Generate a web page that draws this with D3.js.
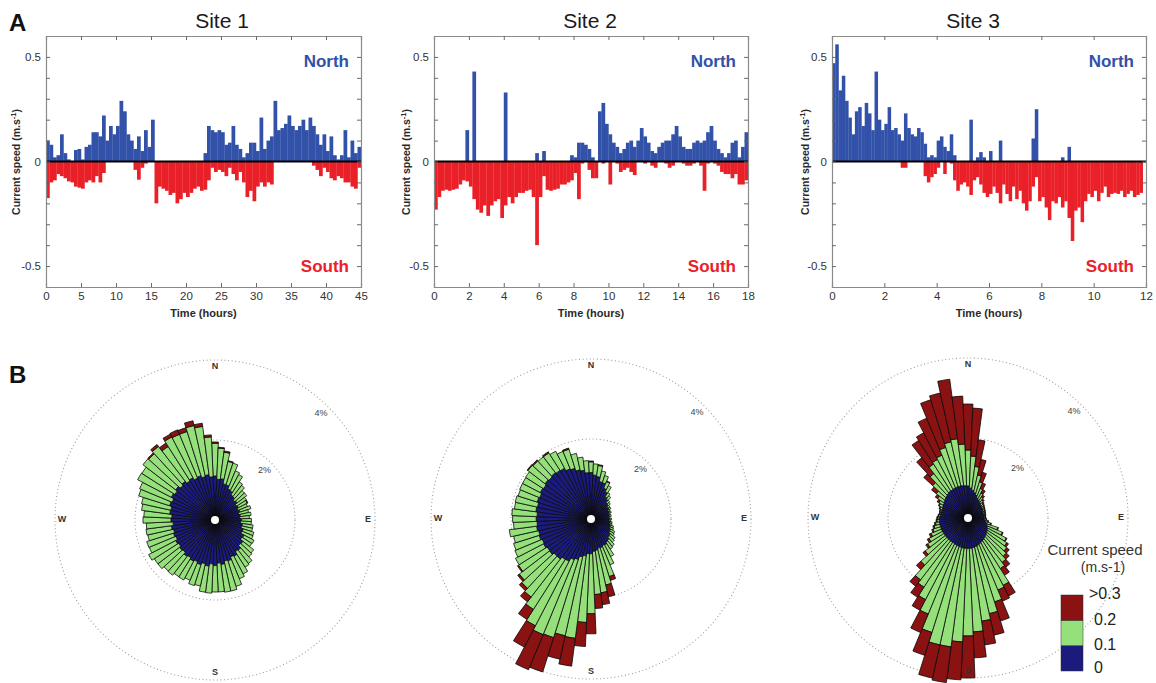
<!DOCTYPE html>
<html>
<head>
<meta charset="utf-8">
<script src="https://cdn.jsdelivr.net/npm/d3@7"></script>
<style>
  body { margin: 0; background: #fff; }
  svg { display: block; font-family: "Liberation Sans", Arial, sans-serif; }
</style>
</head>
<body>
<svg id="chart" width="1156" height="683"></svg>
<script>
// ---------- Panel A: north/south current components per time bin (m/s) ----------
const siteNames = ["Site 1", "Site 2", "Site 3"];

// Site 1: 0.5 h bins over 45 h
const step1 = 0.5;
const north1 = [0.10,0.08,0.02,0.03,0.13,0.04,0.01,0.00,0.055,0.06,
                0.01,0.07,0.08,0.14,0.14,0.12,0.22,0.10,0.17,0.13,
                0.17,0.29,0.24,0.13,0.10,0.06,0.12,0.05,0.15,0.07,
                0.20,0,0,0,0,0,0,0,0,0,
                0,0,0,0,0,0.04,0.17,0.15,0.14,0.15,
                0.14,0.08,0.09,0.17,0.08,0.06,0.02,0.04,0.09,0.09,
                0.05,0.21,0.06,0.10,0.12,0.29,0.15,0.16,0.18,0.22,
                0.17,0.15,0.17,0.20,0.15,0.21,0.17,0.13,0.08,0.13,
                0.05,0.12,0.03,0.01,0.03,0.15,0.02,0.10,0.04,0.07];
const south1 = [0.175,0.10,0.09,0.06,0.07,0.08,0.095,0.10,0.12,0.125,
                0.13,0.10,0.09,0.10,0.07,0.10,0.055,0,0,0,
                0,0,0,0,0,0.04,0.087,0.03,0.01,0,
                0,0.20,0.12,0.13,0.14,0.16,0.15,0.20,0.18,0.15,
                0.17,0.15,0.13,0.12,0.14,0.135,0.09,0.03,0.05,0.04,
                0.05,0.07,0.03,0.06,0.09,0.05,0.10,0.17,0.14,0.19,
                0.12,0.10,0.12,0.10,0.11,0,0,0,0,0,
                0,0,0,0,0,0,0.02,0.04,0.07,0.03,
                0.05,0.08,0.09,0.07,0.08,0.10,0.10,0.12,0.13,0.03];

// Site 2: 0.2 h bins over 18 h
const step2 = 0.2;
const north2 = [0,0,0,0,0,0,0,0,0,0.15,
                0,0.43,0,0,0,0,0,0,0,0,
                0.33,0,0,0,0,0,0,0,0,0.04,
                0,0.05,0,0,0,0,0,0,0,0.03,
                0.02,0.09,0.09,0.08,0.06,0.02,0,0.24,0.28,0.18,
                0.13,0.09,0.07,0.04,0.06,0.09,0.10,0.07,0.10,0.16,
                0.12,0.09,0.05,0.04,0.07,0.09,0.10,0.10,0.13,0.17,
                0.12,0.07,0.06,0.06,0.09,0.10,0.09,0.10,0.14,0.17,
                0.10,0.06,0.04,0.02,0.04,0.09,0.10,0.02,0.07,0.14];
const south2 = [0.23,0.17,0.14,0.135,0.14,0.135,0.13,0.11,0.09,0.095,
                0.12,0.18,0.23,0.245,0.21,0.26,0.21,0.19,0.18,0.27,
                0.21,0.17,0.20,0.17,0.15,0.15,0.14,0.135,0.17,0.40,
                0.17,0.07,0.135,0.14,0.135,0.13,0.11,0.11,0.10,0.09,
                0.055,0.18,0.01,0,0.04,0.08,0.08,0,0.01,0,
                0.11,0,0.01,0.05,0.04,0.03,0.05,0.065,0,0,
                0.01,0,0.02,0.03,0,0,0.01,0.03,0.02,0,
                0,0.01,0.02,0.02,0.01,0,0.02,0.14,0.01,0,
                0.01,0.02,0.05,0.06,0.06,0.08,0.06,0.11,0.11,0.09];

// Site 3: 0.125 h bins over 12 h
const step3 = 0.125;
const north3 = [0.47,0.56,0.34,0.41,0.29,0.21,0.13,0.24,
                0.26,0.17,0.28,0.23,0.15,0.43,0.20,0.15,
                0.18,0.26,0.15,0.16,0.13,0.10,0.23,0.16,
                0.13,0.12,0.16,0.14,0.085,0.02,0.03,0.02,
                0.10,0.12,0.07,0.05,0.13,0.03,0,0,
                0,0,0.20,0,0.02,0.045,0.02,0,
                0.05,0,0,0.10,0,0,0,0,
                0,0,0,0,0,0.11,0.25,0,
                0,0,0,0,0,0,0.02,0,
                0.07,0,0,0,0,0,0,0,
                0,0,0,0,0,0,0,0,
                0,0,0,0,0,0,0,0];
const south3 = [0,0,0,0,0,0,0,0,
                0,0,0,0,0,0,0,0,
                0,0,0,0,0,0.03,0.03,0,
                0,0,0,0,0.07,0.10,0.075,0.06,
                0.03,0,0.06,0,0.01,0.09,0.14,0.11,
                0.10,0.12,0.16,0.09,0.075,0.11,0.15,0.17,
                0.155,0.12,0.15,0.20,0.11,0.155,0.19,0.12,
                0.18,0.14,0.20,0.235,0.19,0.12,0.075,0.19,
                0.17,0.22,0.28,0.19,0.20,0.17,0.22,0.19,
                0.27,0.38,0.235,0.22,0.29,0.19,0.155,0.17,
                0.14,0.19,0.15,0.12,0.17,0.155,0.15,0.155,
                0.14,0.17,0.155,0.14,0.17,0.16,0.15,0];

const timeTicks1 = [0,5,10,15,20,25,30,35,40,45];
const timeTicks2 = [0,2,4,6,8,10,12,14,16,18];
const timeTicks3 = [0,2,4,6,8,10,12];
const speedMinorTicks = [-0.5,-0.4,-0.3,-0.2,-0.1,0,0.1,0.2,0.3,0.4,0.5];
const speedTickLabels = [-0.5, 0, 0.5];

// ---------- Panel B: frequency (%) per 5-degree direction sector, by speed class ----------
const speedClasses = ["0", "0.1", "0.2", ">0.3"];
const directions = d3.range(0, 360, 5);

const roseSlow1 = [1.10,1.02,1.04,0.93,0.92,0.84,0.82,0.74,0.73,0.68,
                   0.70,0.64,0.66,0.62,0.65,0.61,0.64,0.62,0.66,0.64,
                   0.69,0.68,0.74,0.73,0.82,0.80,0.88,0.87,0.95,0.94,
                   1.02,1.00,1.07,1.05,1.12,1.08,1.14,1.10,1.16,1.12,
                   1.17,1.13,1.16,1.12,1.15,1.10,1.12,1.08,1.11,1.06,
                   1.09,1.06,1.10,1.05,1.10,1.08,1.14,1.13,1.19,1.16,
                   1.23,1.19,1.24,1.18,1.22,1.16,1.19,1.13,1.16,1.11,
                   1.14,1.08];
const roseMid1  = [0.82,0.78,0.67,0.57,0.57,0.49,0.46,0.39,0.36,0.32,
                   0.30,0.29,0.25,0.26,0.29,0.25,0.27,0.24,0.25,0.27,
                   0.27,0.28,0.28,0.30,0.28,0.29,0.34,0.38,0.42,0.46,
                   0.50,0.59,0.67,0.77,0.70,0.72,0.66,0.73,0.66,0.57,
                   0.55,0.50,0.53,0.56,0.59,0.63,0.68,0.72,0.76,0.72,
                   0.70,0.66,0.64,0.67,0.70,0.70,0.71,0.75,0.81,0.88,
                   0.95,0.98,1.03,1.07,1.10,1.02,1.15,1.19,1.16,1.31,
                   1.22,1.00];
const roseFast1 = [0.03,0.02,0.03,0.02,0,0,0,0,0,0,
                   0,0,0.02,0,0,0,0,0,0,0,
                   0,0,0,0,0,0,0,0,0,0,
                   0,0,0,0,0,0,0,0,0,0,
                   0,0,0,0,0,0,0,0,0,0,
                   0,0,0,0,0,0,0,0,0,0,
                   0,0,0,0.03,0.06,0.10,0.08,0.12,0.10,0.12,
                   0.08,0.05];

const roseSlow2 = [1.16,1.10,1.07,0.96,0.95,0.83,0.77,0.66,0.63,0.56,
                   0.55,0.50,0.51,0.47,0.48,0.45,0.46,0.44,0.46,0.45,
                   0.48,0.47,0.51,0.51,0.55,0.56,0.61,0.62,0.67,0.69,
                   0.73,0.72,0.75,0.75,0.79,0.81,0.87,0.87,0.93,0.97,
                   1.06,1.10,1.19,1.20,1.26,1.26,1.31,1.30,1.34,1.32,
                   1.36,1.34,1.37,1.35,1.37,1.35,1.39,1.37,1.41,1.39,
                   1.43,1.41,1.45,1.43,1.46,1.44,1.43,1.36,1.33,1.26,
                   1.23,1.16];
const roseMid2  = [0.27,0.28,0.28,0.27,0.19,0.18,0.17,0.12,0.10,0.08,
                   0.06,0.06,0.05,0.04,0.05,0.04,0.05,0.03,0.05,0.04,
                   0.05,0.07,0.08,0.10,0.12,0.13,0.15,0.17,0.19,0.20,
                   0.33,0.52,0.76,0.94,1.07,1.08,1.50,1.72,2.08,2.02,
                   2.05,2.03,1.82,1.48,1.20,1.09,0.95,0.85,0.79,0.74,
                   0.67,0.64,0.69,0.59,0.59,0.63,0.54,0.57,0.50,0.54,
                   0.50,0.53,0.54,0.54,0.50,0.52,0.48,0.47,0.50,0.42,
                   0.33,0.30];
const roseFast2 = [0.02,0,0.02,0,0,0.02,0,0,0,0,
                   0,0,0,0,0,0,0,0,0,0,
                   0,0,0,0,0,0,0,0,0,0,
                   0,0,0.10,0.30,0.30,0.35,0.50,0.60,0.70,0.60,
                   0.90,0.95,0.60,0.30,0.15,0.08,0.05,0.03,0,0,
                   0,0,0,0,0,0,0,0,0,0,
                   0,0,0.02,0.03,0,0.03,0,0,0.03,0,
                   0,0];

const roseSlow3 = [0.80,0.75,0.70,0.65,0.60,0.55,0.52,0.50,0.48,0.46,
                   0.44,0.43,0.42,0.41,0.40,0.40,0.40,0.40,0.40,0.41,
                   0.43,0.46,0.50,0.53,0.56,0.58,0.60,0.62,0.64,0.66,
                   0.68,0.70,0.72,0.74,0.75,0.76,0.76,0.76,0.76,0.75,
                   0.74,0.73,0.72,0.72,0.72,0.72,0.72,0.72,0.72,0.72,
                   0.72,0.72,0.72,0.72,0.72,0.70,0.68,0.68,0.68,0.69,
                   0.70,0.72,0.74,0.76,0.78,0.80,0.80,0.81,0.82,0.82,
                   0.82,0.81];
const roseMid3  = [0.90,0.80,0.60,0.45,0.35,0.25,0.18,0.12,0.08,0.06,
                   0.06,0.05,0.05,0.05,0.05,0.04,0.04,0.03,0.04,0.05,
                   0.07,0.12,0.28,0.40,0.52,0.57,0.62,0.68,0.76,0.84,
                   1.22,1.25,1.48,1.71,1.85,2.09,2.19,2.34,2.49,2.50,
                   2.26,1.87,1.58,1.33,1.23,0.88,0.63,0.48,0.38,0.28,
                   0.20,0.15,0.10,0.06,0.04,0.04,0.03,0.04,0.06,0.09,
                   0.12,0.18,0.26,0.44,0.62,0.80,0.85,0.89,1.03,1.13,
                   1.18,1.04];
const roseFast3 = [1.15,1.20,0.67,0.40,0.25,0.15,0.10,0.06,0.04,0.03,
                   0.02,0.02,0.01,0.01,0.01,0.01,0.01,0.01,0.01,0.01,
                   0.02,0.02,0.02,0.02,0.02,0.05,0.08,0.10,0.15,0.20,
                   0.30,0.30,0.50,0.55,0.60,0.65,1.05,0.95,0.90,0.85,
                   0.60,0.50,0.30,0.30,0.20,0.15,0.07,0.05,0.05,0.05,
                   0.03,0.03,0.03,0.02,0.02,0.01,0.01,0.01,0.02,0.02,
                   0.05,0.07,0.15,0.30,0.50,0.70,0.75,1.00,1.25,1.25,
                   1.50,1.20];

const ringValues = [2, 4];
const compassLabels = [["N", 0], ["E", 90], ["S", 180], ["W", 270]];

// ---------- Styling ----------
const northColor = "#3251a8";
const southColor = "#ea2028";
const classColors = ["#1b1b7e", "#95e07a", "#8a1212"];
const textColor = "#2a2a2a";

const svg = d3.select("#chart");

// Panel letters
svg.append("text").attr("x", 9).attr("y", 31).attr("font-size", 24).attr("font-weight", "bold")
   .attr("fill", "#111").text("A");
svg.append("text").attr("x", 9).attr("y", 383).attr("font-size", 24).attr("font-weight", "bold")
   .attr("fill", "#111").text("B");

// ---------- Panel A: time series ----------
const yTop = 36, yBottom = 287;
const series = [
  { north: north1, south: south1, step: step1, tmax: 45, ticks: timeTicks1, x0: 46,  x1: 361,  titleX: 222, labelX: 20 },
  { north: north2, south: south2, step: step2, tmax: 18, ticks: timeTicks2, x0: 434, x1: 748,  titleX: 590, labelX: 410 },
  { north: north3, south: south3, step: step3, tmax: 12, ticks: timeTicks3, x0: 832, x1: 1146, titleX: 973, labelX: 809 }
];

series.forEach((s, k) => {
  const x = d3.scaleLinear().domain([0, s.tmax]).range([s.x0, s.x1]);
  const y = d3.scaleLinear().domain([-0.6, 0.6]).range([yBottom, yTop]);
  const g = svg.append("g");

  // title
  g.append("text").attr("x", s.titleX).attr("y", 28).attr("text-anchor", "middle")
   .attr("font-size", 21).attr("fill", "#1a1a1a").text(siteNames[k]);

  const bw = i => x((i + 1) * s.step) - x(i * s.step) + 0.25;

  // northward bars
  g.append("g").selectAll("rect").data(s.north).join("rect")
    .attr("x", (d, i) => x(i * s.step))
    .attr("width", (d, i) => bw(i))
    .attr("y", d => y(d))
    .attr("height", d => y(0) - y(d))
    .attr("fill", northColor);

  // southward bars
  g.append("g").selectAll("rect").data(s.south).join("rect")
    .attr("x", (d, i) => x(i * s.step))
    .attr("width", (d, i) => bw(i))
    .attr("y", y(0))
    .attr("height", d => y(-d) - y(0))
    .attr("fill", southColor);

  // zero line
  g.append("line").attr("x1", s.x0).attr("x2", s.x1).attr("y1", y(0)).attr("y2", y(0))
   .attr("stroke", "#000").attr("stroke-width", 2);

  // axes (ticks pointing inward, MATLAB style box)
  const fmtY = d => speedTickLabels.some(v => Math.abs(v - d) < 1e-9) ? (d === 0 ? "0" : String(d)) : "";
  const axes = [
    g.append("g").attr("transform", `translate(0,${yBottom})`)
      .call(d3.axisBottom(x).tickValues(s.ticks).tickSize(-4).tickPadding(5).tickFormat(d3.format("d"))),
    g.append("g").attr("transform", `translate(0,${yTop})`)
      .call(d3.axisTop(x).tickValues(s.ticks).tickSize(-4).tickFormat("")),
    g.append("g").attr("transform", `translate(${s.x0},0)`)
      .call(d3.axisLeft(y).tickValues(speedMinorTicks).tickSize(-4).tickPadding(5).tickFormat(fmtY)),
    g.append("g").attr("transform", `translate(${s.x1},0)`)
      .call(d3.axisRight(y).tickValues(speedMinorTicks).tickSize(-4).tickFormat(""))
  ];
  axes.forEach(a => {
    a.select(".domain").attr("stroke", "#8a8a8a").attr("stroke-width", 1.2);
    a.selectAll(".tick line").attr("stroke", "#6a6a6a");
    a.selectAll("text").attr("font-size", 11.5).attr("fill", "#333")
      .attr("font-family", "'Liberation Sans', Arial, sans-serif");
  });

  // axis titles
  g.append("text").attr("x", (s.x0 + s.x1) / 2).attr("y", 317).attr("text-anchor", "middle")
   .attr("font-size", 11).attr("font-weight", "bold").attr("fill", textColor).text("Time (hours)");

  const yl = g.append("text").attr("transform", `translate(${s.labelX},162) rotate(-90)`)
   .attr("text-anchor", "middle").attr("font-size", 10.5).attr("font-weight", "bold").attr("fill", textColor);
  yl.append("tspan").text("Current speed (m.s");
  yl.append("tspan").attr("dy", -4).attr("font-size", 7.5).text("-1");
  yl.append("tspan").attr("dy", 4).text(")");

  // direction labels
  g.append("text").attr("x", s.x1 - 12).attr("y", 67).attr("text-anchor", "end")
   .attr("font-size", 17).attr("font-weight", "bold").attr("fill", northColor).text("North");
  g.append("text").attr("x", s.x1 - 12).attr("y", 272).attr("text-anchor", "end")
   .attr("font-size", 17).attr("font-weight", "bold").attr("fill", southColor).text("South");
});

// ---------- Panel B: current roses ----------
const r = d3.scaleLinear().domain([0, 4]).range([0, 160]);
const arc = d3.arc();
const roses = [
  { cx: 215, cy: 520, classes: [roseSlow1, roseMid1, roseFast1] },
  { cx: 591, cy: 519, classes: [roseSlow2, roseMid2, roseFast2] },
  { cx: 968, cy: 518, classes: [roseSlow3, roseMid3, roseFast3] }
];
const rad = deg => deg * Math.PI / 180;

roses.forEach(ro => {
  const g = svg.append("g").attr("transform", `translate(${ro.cx},${ro.cy})`);

  // dotted frequency rings
  g.selectAll("circle.ring").data(ringValues).join("circle").attr("class", "ring")
    .attr("r", d => r(d)).attr("fill", "none")
    .attr("stroke", "#9c9c9c").attr("stroke-width", 1.1).attr("stroke-dasharray", "1,2.6");

  // stacked sectors
  const sectors = [];
  directions.forEach((dir, i) => {
    let base = 0;
    ro.classes.forEach((arr, c) => {
      const v = arr[i];
      if (v > 0) sectors.push({ dir, inner: base, outer: base + v, c });
      base += v;
    });
  });
  g.append("g").selectAll("path").data(sectors).join("path")
    .attr("d", d => arc({
      innerRadius: r(d.inner), outerRadius: r(d.outer),
      startAngle: rad(d.dir - 2.5), endAngle: rad(d.dir + 2.5)
    }))
    .attr("fill", d => classColors[d.c])
    .attr("stroke", "#0a0a0a").attr("stroke-width", 0.8).attr("stroke-linejoin", "round");

  g.append("circle").attr("r", 4).attr("fill", "#fff");

  // ring labels along the NE diagonal
  g.selectAll("text.pct").data(ringValues).join("text").attr("class", "pct")
    .attr("x", d => (r(d) - 10) * Math.SQRT1_2)
    .attr("y", d => -(r(d) - 10) * Math.SQRT1_2)
    .attr("text-anchor", "middle").attr("dominant-baseline", "middle")
    .attr("font-size", 9).attr("fill", "#444").text(d => d + "%");

  // compass labels
  g.selectAll("text.dir").data(compassLabels).join("text").attr("class", "dir")
    .attr("x", d => 153 * Math.sin(rad(d[1])))
    .attr("y", d => -153 * Math.cos(rad(d[1])))
    .attr("text-anchor", "middle").attr("dominant-baseline", "middle")
    .attr("font-size", 9).attr("font-weight", "bold").attr("fill", "#333").text(d => d[0]);
});

// ---------- Legend ----------
const leg = svg.append("g");
leg.append("text").attr("x", 1095).attr("y", 555).attr("text-anchor", "middle")
   .attr("font-size", 15).attr("fill", "#333").text("Current speed");
leg.append("text").attr("x", 1103).attr("y", 572).attr("text-anchor", "middle")
   .attr("font-size", 14).attr("fill", "#333").text("(m.s-1)");

const legY = d3.scaleLinear().domain([0, 3]).range([671, 595]);
const legendBands = [0, 1, 2];
leg.selectAll("rect").data(legendBands).join("rect")
   .attr("x", 1061).attr("width", 22)
   .attr("y", d => legY(d + 1)).attr("height", d => legY(d) - legY(d + 1))
   .attr("fill", d => classColors[d]).attr("stroke", "#333").attr("stroke-width", 0.5);
leg.selectAll("text.lv").data(speedClasses).join("text").attr("class", "lv")
   .attr("x", (d, i) => i === 3 ? 1089 : 1094)
   .attr("y", (d, i) => legY(i) + (i === 0 ? -2 : 0))
   .attr("dominant-baseline", "middle")
   .attr("font-size", 16).attr("fill", "#222").text(d => d);
</script>
</body>
</html>
